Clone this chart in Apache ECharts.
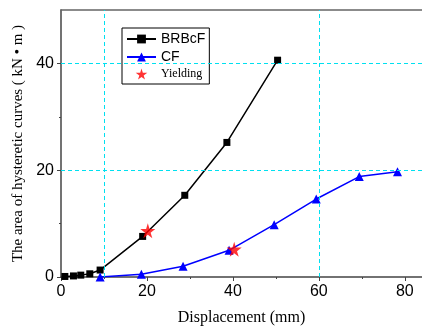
<!DOCTYPE html>
<html>
<head>
<meta charset="utf-8">
<script src="https://cdn.jsdelivr.net/npm/echarts@6/dist/echarts.min.js"></script>
<style>
  html, body { margin: 0; padding: 0; background: #fff; }
  #main { width: 422px; height: 327px; }
</style>
</head>
<body>
<div id="main"></div>
<script>
// data
var brbcfX = [0.9, 2.9, 4.6, 6.7, 9.1, 19.0, 28.8, 38.6, 50.4];
var brbcfY = [0.1, 0.2, 0.35, 0.6, 1.3, 7.6, 15.3, 25.2, 40.6];
var cfX = [9.1, 18.7, 28.4, 39.1, 49.6, 59.4, 69.4, 78.3];
var cfY = [0.0, 0.5, 2.0, 5.0, 9.8, 14.6, 18.8, 19.7];
var yieldX = [20.2, 40.3];
var yieldY = [8.65, 5.2];
var xMajor = [0, 20, 40, 60, 80];
var xMinor = [10, 30, 50, 70];
var yMajor = [0, 20, 40];
var yMinor = [10, 30];
var gridX = [10, 60];
var gridY = [20, 40];

function pairs(xs, ys) {
  return xs.map(function (x, i) { return [x, ys[i]]; });
}

var star = 'path://M50,0 L61,35 L98,35 L68,57 L79,91 L50,70 L21,91 L32,57 L2,35 L39,35 Z';
var axisCol = '#444';
var serif = '"Liberation Serif", "Times New Roman", serif';
var sans = '"Liberation Sans", Arial, sans-serif';
var guide = { color: '#00e0f0', type: [4, 3], width: 1 };

var myChart = echarts.init(document.getElementById('main'));
myChart.setOption({
  animation: false,
  grid: { left: 61, right: 0, top: 10, bottom: 50, outerBoundsMode: 'none' },
  legend: {
    orient: 'vertical',
    left: 122,
    top: 28,
    padding: [4, 4, 4, 4],
    itemGap: 4,
    itemWidth: 29,
    itemHeight: 11,
    borderColor: '#000',
    borderWidth: 1,
    textStyle: { fontFamily: sans, fontSize: 14, color: '#000' },
    data: [
      { name: 'BRBcF' },
      { name: 'CF' },
      { name: 'Yielding', textStyle: { fontFamily: serif, fontSize: 12 } }
    ]
  },
  xAxis: [
    {
      type: 'value', position: 'bottom', min: 0, max: 84,
      name: 'Displacement (mm)',
      nameLocation: 'middle',
      nameGap: 33,
      nameTextStyle: { fontFamily: serif, fontSize: 16, color: '#000' },
      axisLine: { lineStyle: { color: axisCol, width: 1.5 } },
      axisTick: { customValues: xMajor, length: 4, lineStyle: { color: axisCol } },
      axisLabel: { customValues: xMajor, fontFamily: sans, fontSize: 16, color: '#000', margin: 7 },
      splitLine: { show: false }
    },
    {
      type: 'value', position: 'bottom', min: 0, max: 84,
      axisLine: { show: false },
      axisTick: { customValues: xMinor, length: 2, lineStyle: { color: axisCol } },
      axisLabel: { show: false },
      splitLine: { show: false }
    },
    {
      type: 'value', position: 'top', min: 0, max: 84,
      axisLine: { lineStyle: { color: '#666', width: 1.5 } },
      axisTick: { show: false },
      axisLabel: { show: false },
      splitLine: { show: false }
    }
  ],
  yAxis: [
    {
      type: 'value', position: 'left', min: 0, max: 50,
      name: 'The area of hysteretic curves ( kN • m )',
      nameLocation: 'middle',
      nameGap: 35,
      nameTextStyle: { fontFamily: serif, fontSize: 15, color: '#000' },
      axisLine: { show: true, lineStyle: { color: axisCol, width: 1.5 } },
      axisTick: { show: true, customValues: yMajor, length: 4, lineStyle: { color: axisCol } },
      axisLabel: { customValues: yMajor, fontFamily: sans, fontSize: 16, color: '#000', margin: 7 },
      splitLine: { show: false }
    },
    {
      type: 'value', position: 'left', min: 0, max: 50,
      axisLine: { show: false },
      axisTick: { show: true, customValues: yMinor, length: 2, lineStyle: { color: axisCol } },
      axisLabel: { show: false },
      splitLine: { show: false }
    }
  ],
  series: [
    {
      // cyan dashed guide lines
      type: 'line',
      data: [],
      silent: true,
      z: 1,
      markLine: {
        silent: true,
        symbol: 'none',
        label: { show: false },
        emphasis: { disabled: true },
        lineStyle: guide,
        data: gridX.map(function (v) { return { xAxis: v, lineStyle: guide }; })
          .concat(gridY.map(function (v) { return { yAxis: v, lineStyle: guide }; }))
      }
    },
    {
      name: 'BRBcF',
      type: 'line',
      data: pairs(brbcfX, brbcfY),
      symbol: 'rect',
      symbolSize: 7,
      itemStyle: { color: '#000' },
      lineStyle: { color: '#000', width: 1.5 },
      z: 3
    },
    {
      name: 'CF',
      type: 'line',
      data: pairs(cfX, cfY),
      symbol: 'triangle',
      symbolSize: 9,
      itemStyle: { color: '#0000ff' },
      lineStyle: { color: '#0000ff', width: 1.5 },
      z: 3
    },
    {
      name: 'Yielding',
      type: 'scatter',
      data: pairs(yieldX, yieldY),
      symbol: star,
      symbolSize: 15,
      itemStyle: { color: '#ff0000' },
      z: 5
    }
  ]
});
</script>
</body>
</html>
